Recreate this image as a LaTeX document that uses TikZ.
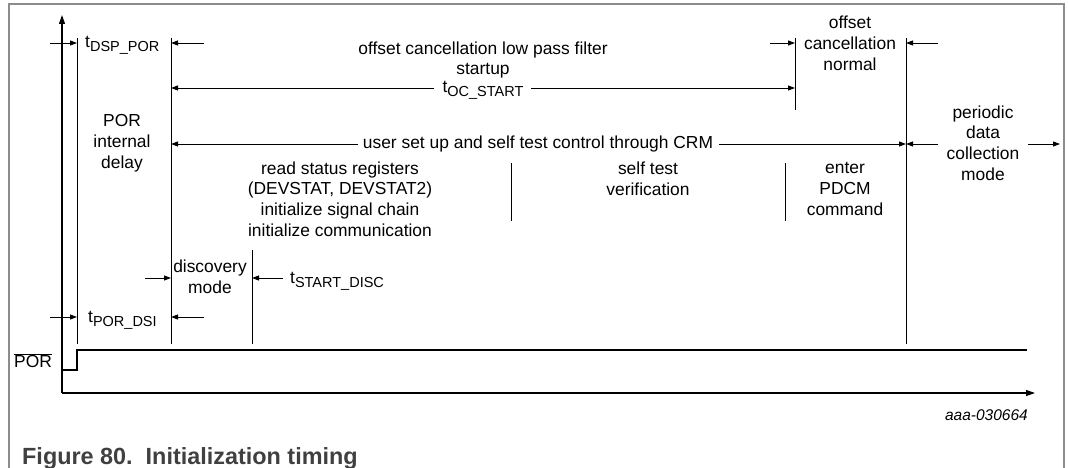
\documentclass[tikz,border=0pt]{standalone}
\usepackage{fontspec}
\setmainfont{Liberation Sans}
\usetikzlibrary{arrows.meta}
\newcommand{\tsubs}[1]{\raisebox{-4pt}{\fontsize{14.5}{14.5}\selectfont #1}}
\definecolor{framegray}{HTML}{8C8C8C}
\definecolor{captiongray}{HTML}{404040}
\begin{document}
\begin{tikzpicture}[x=1pt,y=-1pt,
  txt/.style={font=\fontsize{17.4}{20.8}\selectfont, inner sep=0pt, align=center},
  vline/.style={line width=0.9pt},
  arr/.style={line width=0.9pt,-{Triangle[length=7pt,width=5pt]}},
  axis/.style={line width=1.2pt,-{Triangle[length=9pt,width=6pt]}},
  sig/.style={line width=2.6pt,line join=miter},
]
\useasboundingbox (0,0) rectangle (1068,468);
\draw[framegray,line width=1.2pt] (9,468) -- (9,4) -- (1064,4) -- (1064,468);

% axes
\coordinate (o) at (62,393);
\coordinate (ytop) at (62,15);
\coordinate (xend) at (1035,393);
\draw[axis] (o) -- (ytop);
\draw[axis] (o) -- (xend);

% vertical markers
\coordinate (a1) at (77,38);   \coordinate (a2) at (77,344);
\coordinate (b1) at (171,38);  \coordinate (b2) at (171,344);
\coordinate (c1) at (252,250); \coordinate (c2) at (252,344);
\coordinate (d1) at (511,163); \coordinate (d2) at (511,221);
\coordinate (e1) at (785,163); \coordinate (e2) at (785,221);
\coordinate (f1) at (795,38);  \coordinate (f2) at (795,110);
\coordinate (g1) at (906,38);  \coordinate (g2) at (906,344);
\foreach \v in {a,b,c,d,e,f,g} \draw[vline] (\v1) -- (\v2);

% POR signal
\coordinate (p0) at (62,370);
\coordinate (p1) at (77,370);
\coordinate (p2) at (77,350);
\coordinate (p3) at (1027,350);
\draw[sig] (p0) -- (p1) -- (p2) -- (p3);
\node[txt, anchor=center] (porlbl) at (33,361) {$\overline{\hbox{POR}}$};

% t_DSP_POR row
\node[txt, anchor=base west] (tdsp) at (85,48) {t\tsubs{DSP\_POR}};
\coordinate (s1) at (50,43);  \coordinate (s1t) at (77,43);
\coordinate (s2) at (204,43); \coordinate (s2t) at (171,43);
\draw[arr] (s1) -- (s1t);
\draw[arr] (s2) -- (s2t);

% offset cancellation startup
\node[txt] (ocs) at (483,60) {offset cancellation low pass filter\\startup};
\node[txt, anchor=base] (toc) at (483,93) {t\tsubs{OC\_START}};
\coordinate (tocL) at (434,88); \coordinate (tocLt) at (171,88);
\coordinate (tocR) at (531,88); \coordinate (tocRt) at (795,88);
\draw[arr] (tocL) -- (tocLt);
\draw[arr] (tocR) -- (tocRt);

% offset cancellation normal
\node[txt] (ocn) at (850,43) {offset\\cancellation\\normal};
\coordinate (n1) at (770,43); \coordinate (n1t) at (795,43);
\coordinate (n2) at (938,43); \coordinate (n2t) at (906,43);
\draw[arr] (n1) -- (n1t);
\draw[arr] (n2) -- (n2t);

% POR internal delay
\node[txt] (por) at (122,143.5) {POR\\internal\\delay};

% user set up line
\node[txt] (user) at (538,144) {user set up and self test control through CRM};
\coordinate (uL) at (358,144); \coordinate (uLt) at (171,144);
\coordinate (uR) at (719,144); \coordinate (uRt) at (906,144);
\draw[arr] (uL) -- (uLt);
\draw[arr] (uR) -- (uRt);

% periodic data collection mode
\node[txt] (pdc) at (983,143) {periodic\\data\\collection\\mode};
\coordinate (m1) at (938,144);  \coordinate (m1t) at (906,144);
\coordinate (m2) at (1028,144); \coordinate (m2t) at (1060,144);
\draw[arr] (m1) -- (m1t);
\draw[arr] (m2) -- (m2t);

% phase texts
\node[txt] (rsr) at (340,199) {read status registers\\(DEVSTAT, DEVSTAT2)\\initialize signal chain\\initialize communication};
\node[txt] (stv) at (648,178.5) {self test\\verification};
\node[txt] (epc) at (845,189) {enter\\PDCM\\command};

% discovery mode
\node[txt] (dm) at (210,277) {discovery\\mode};
\coordinate (q1) at (145,278); \coordinate (q1t) at (171,278);
\coordinate (q2) at (283,278); \coordinate (q2t) at (252,278);
\draw[arr] (q1) -- (q1t);
\draw[arr] (q2) -- (q2t);
\node[txt, anchor=base west] (tsd) at (290,283) {t\tsubs{START\_DISC}};

% t_POR_DSI row
\node[txt, anchor=base west] (tpd) at (88,322) {t\tsubs{POR\_DSI}};
\coordinate (r1) at (50,317);  \coordinate (r1t) at (77,317);
\coordinate (r2) at (204,317); \coordinate (r2t) at (171,317);
\draw[arr] (r1) -- (r1t);
\draw[arr] (r2) -- (r2t);

% id and caption
\node[font=\fontsize{15.5}{15.5}\selectfont\itshape, inner sep=0pt, anchor=east] (id) at (1028,415) {aaa-030664};
\node[font=\fontsize{23.4}{24}\selectfont\bfseries, text=captiongray, inner sep=0pt, anchor=west] (cap) at (22,458) {Figure 80.\ \ Initialization timing};
\end{tikzpicture}
\end{document}
